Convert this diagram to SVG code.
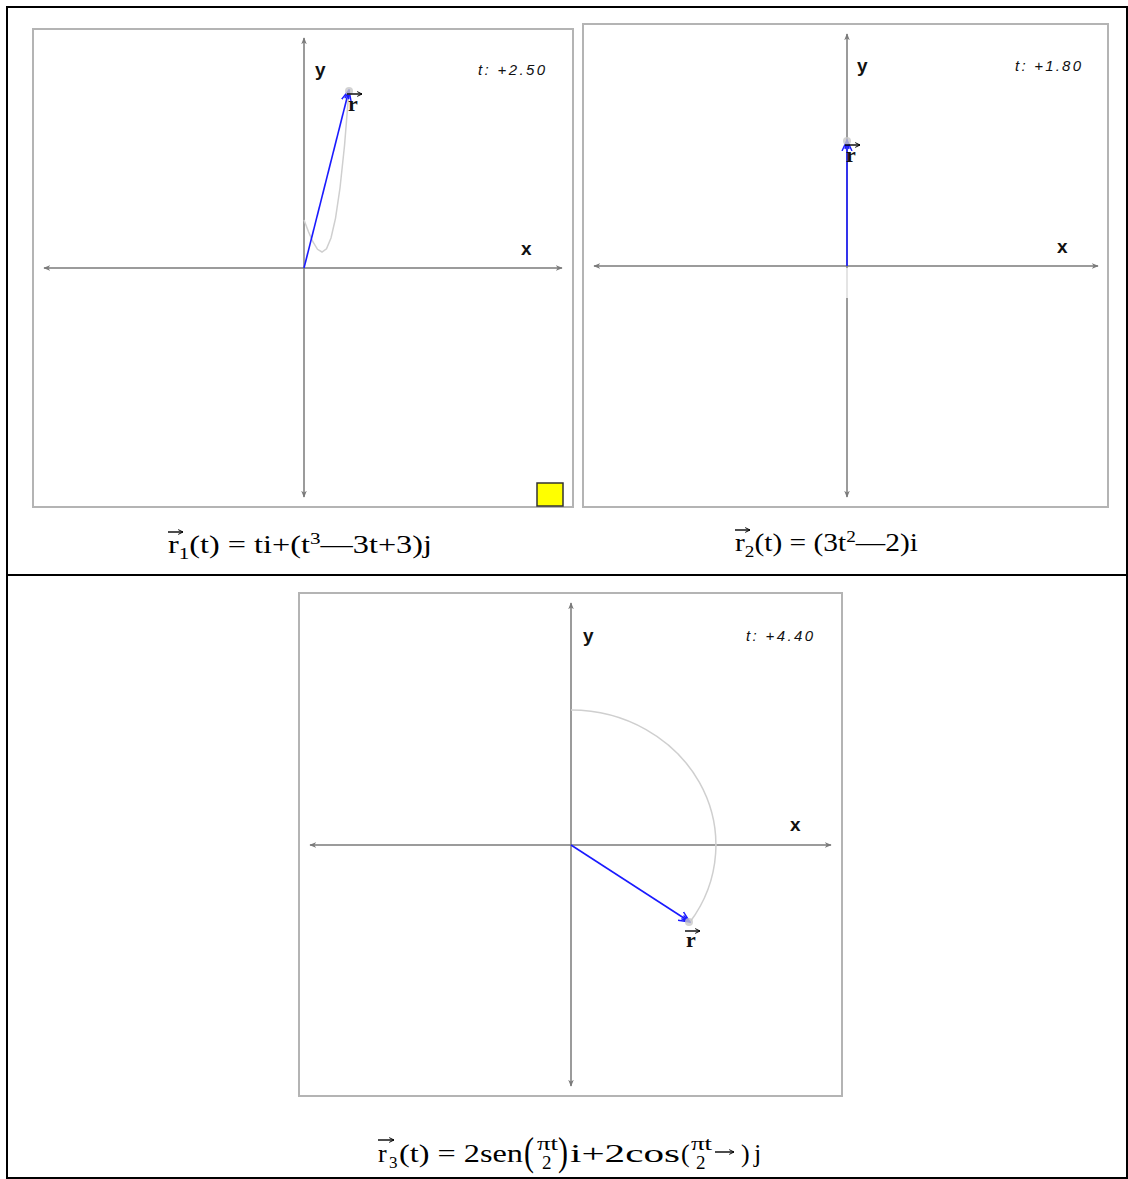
<svg xmlns="http://www.w3.org/2000/svg" width="1128" height="1179" viewBox="0 0 1128 1179">
<style>
.frame{fill:none;stroke:#000;stroke-width:2}
.panel{fill:#fff;stroke:#b4b4b4;stroke-width:2}
.axis{stroke:#7a7a7a;stroke-width:1.5;fill:none;marker-start:url(#ah);marker-end:url(#ah)}
.trace{stroke:#cfcfcf;stroke-width:1.5;fill:none}
.vec{stroke:#1a1aff;stroke-width:1.6;fill:none;marker-end:url(#bh)}
.lab{font-family:"Liberation Sans",Arial,sans-serif;font-weight:bold;font-size:19px;fill:#111}
.tl{font-family:"Liberation Sans",Arial,sans-serif;font-style:italic;font-size:15px;fill:#111}
.rl{font-family:"Liberation Serif","Times New Roman",serif;font-weight:bold;font-size:22px;fill:#111}
.fm{font-family:"Liberation Serif","Times New Roman",serif;font-size:26px;fill:#000}
.fs{font-family:"Liberation Serif","Times New Roman",serif;font-size:17px;fill:#000}
.fr{font-family:"Liberation Serif","Times New Roman",serif;font-size:19px;fill:#000}
.big{font-family:"Liberation Serif","Times New Roman",serif;font-size:40px;fill:#000}
.ov{stroke:#000;stroke-width:1.4;fill:none}
.glow{fill:#c8c8c8;opacity:0.8}
</style>
<defs>
<marker id="ah" viewBox="0 0 10 10" refX="9" refY="5" markerWidth="7" markerHeight="7" orient="auto-start-reverse" markerUnits="userSpaceOnUse">
<path d="M0,1 L10,5 L0,9 L3,5 Z" fill="#7a7a7a"/>
</marker>
<marker id="bh" viewBox="0 0 12 12" refX="11" refY="6" markerWidth="12" markerHeight="12" orient="auto" markerUnits="userSpaceOnUse">
<path d="M0,1 L11,6 L0,11 M2,4 L9,6 L2,8" stroke="#1a1aff" stroke-width="1.4" fill="none"/>
</marker>
<marker id="oh" viewBox="0 0 10 10" refX="9" refY="5" markerWidth="6" markerHeight="6" orient="auto" markerUnits="userSpaceOnUse">
<path d="M1,1 L9,5 L1,9" stroke="#000" stroke-width="1.6" fill="none"/>
</marker>
</defs>

<g id="table">
<rect class="frame" x="7" y="7" width="1120" height="1171"/>
<line class="frame" x1="7" y1="575" x2="1127" y2="575"/>
</g>

<g id="panel1">
<rect class="panel" x="33" y="29" width="540" height="478"/>
<line class="axis" x1="44" y1="268" x2="562" y2="268"/>
<line class="axis" x1="304" y1="38" x2="304" y2="497"/>
<polyline class="trace" points="304,220 308.5,231.8 313,242 317.5,249.3 322,252 326.5,248.8 331,238 335.5,218.3 340,188 344.5,145.8 349,90"/>
<line class="vec" x1="304" y1="268" x2="349" y2="90"/>
<circle class="glow" cx="349" cy="91" r="4"/>
<text class="lab" x="315" y="76">y</text>
<text class="lab" x="521" y="255">x</text>
<text class="tl" x="478" y="75" textLength="67" lengthAdjust="spacing">t: +2.50</text>
<text class="rl" x="348" y="111">r</text>
<line class="ov" x1="347" y1="94" x2="362" y2="94" marker-end="url(#oh)"/>
<rect x="537" y="483" width="26" height="23" fill="#ffff00" stroke="#333" stroke-width="1.5"/>
</g>

<g id="panel2">
<rect class="panel" x="583" y="24" width="525" height="483"/>
<line class="axis" x1="594" y1="266" x2="1098" y2="266"/>
<line class="axis" x1="847" y1="34" x2="847" y2="497"/>
<line x1="847" y1="268" x2="847" y2="298" stroke="#e4e4e4" stroke-width="2"/>
<line class="vec" x1="847" y1="266" x2="847" y2="140"/>
<circle class="glow" cx="847" cy="141" r="4"/>
<text class="lab" x="857" y="72">y</text>
<text class="lab" x="1057" y="253">x</text>
<text class="tl" x="1015" y="71" textLength="66" lengthAdjust="spacing">t: +1.80</text>
<text class="rl" x="846" y="162">r</text>
<line class="ov" x1="845" y1="145" x2="860" y2="145" marker-end="url(#oh)"/>
</g>

<g id="panel3">
<rect class="panel" x="299" y="593" width="543" height="503"/>
<line class="axis" x1="310" y1="845" x2="831" y2="845"/>
<line class="axis" x1="571" y1="603" x2="571" y2="1086"/>
<path class="trace" d="M571,710 A145,135 0 0 1 690,922"/>
<line class="vec" x1="571" y1="845" x2="690" y2="922"/>
<circle class="glow" cx="689" cy="922" r="4"/>
<text class="lab" x="583" y="642">y</text>
<text class="lab" x="790" y="831">x</text>
<text class="tl" x="746" y="641" textLength="67" lengthAdjust="spacing">t: +4.40</text>
<text class="rl" x="686" y="947">r</text>
<line class="ov" x1="685" y1="931" x2="700" y2="931" marker-end="url(#oh)"/>
</g>

<g id="formula1">
<text class="fm" x="168" y="553" textLength="264" lengthAdjust="spacingAndGlyphs">r<tspan font-size="17" dy="6">1</tspan><tspan dy="-6">(t) = ti+(t</tspan><tspan font-size="17" dy="-9">3</tspan><tspan dy="9">—3t+3)j</tspan></text>
<line class="ov" x1="168" y1="532" x2="183" y2="532" marker-end="url(#oh)"/>
</g>

<g id="formula2">
<text class="fm" x="735" y="551" textLength="183" lengthAdjust="spacingAndGlyphs">r<tspan font-size="17" dy="6">2</tspan><tspan dy="-6">(t) = (3t</tspan><tspan font-size="17" dy="-9">2</tspan><tspan dy="9">—2)i</tspan></text>
<line class="ov" x1="735" y1="530" x2="750" y2="530" marker-end="url(#oh)"/>
</g>

<g id="formula3">
<text class="fm" x="378" y="1162">r</text>
<text class="fs" x="389" y="1168">3</text>
<line class="ov" x1="378" y1="1140" x2="394" y2="1140" marker-end="url(#oh)"/>
<text class="fm" x="399" y="1162" textLength="124" lengthAdjust="spacingAndGlyphs">(t) = 2sen</text>
<text class="big" x="0" y="0" transform="translate(524,1165) scale(0.75,1)">(</text>
<text class="fr" x="537" y="1150" textLength="21" lengthAdjust="spacingAndGlyphs">πt</text>
<text class="fr" x="542" y="1169">2</text>
<text class="big" x="0" y="0" transform="translate(558,1165) scale(0.75,1)">)</text>
<text class="fm" x="570" y="1162" textLength="110" lengthAdjust="spacingAndGlyphs">i+2cos</text>
<text class="fm" x="681" y="1162">(</text>
<text class="fr" x="691" y="1150" textLength="21" lengthAdjust="spacingAndGlyphs">πt</text>
<text class="fr" x="696" y="1169">2</text>
<line class="ov" x1="715" y1="1152" x2="734" y2="1152" marker-end="url(#oh)"/>
<text class="fm" x="741" y="1162">)</text>
<text class="fm" x="754" y="1162">j</text>
</g>
</svg>
